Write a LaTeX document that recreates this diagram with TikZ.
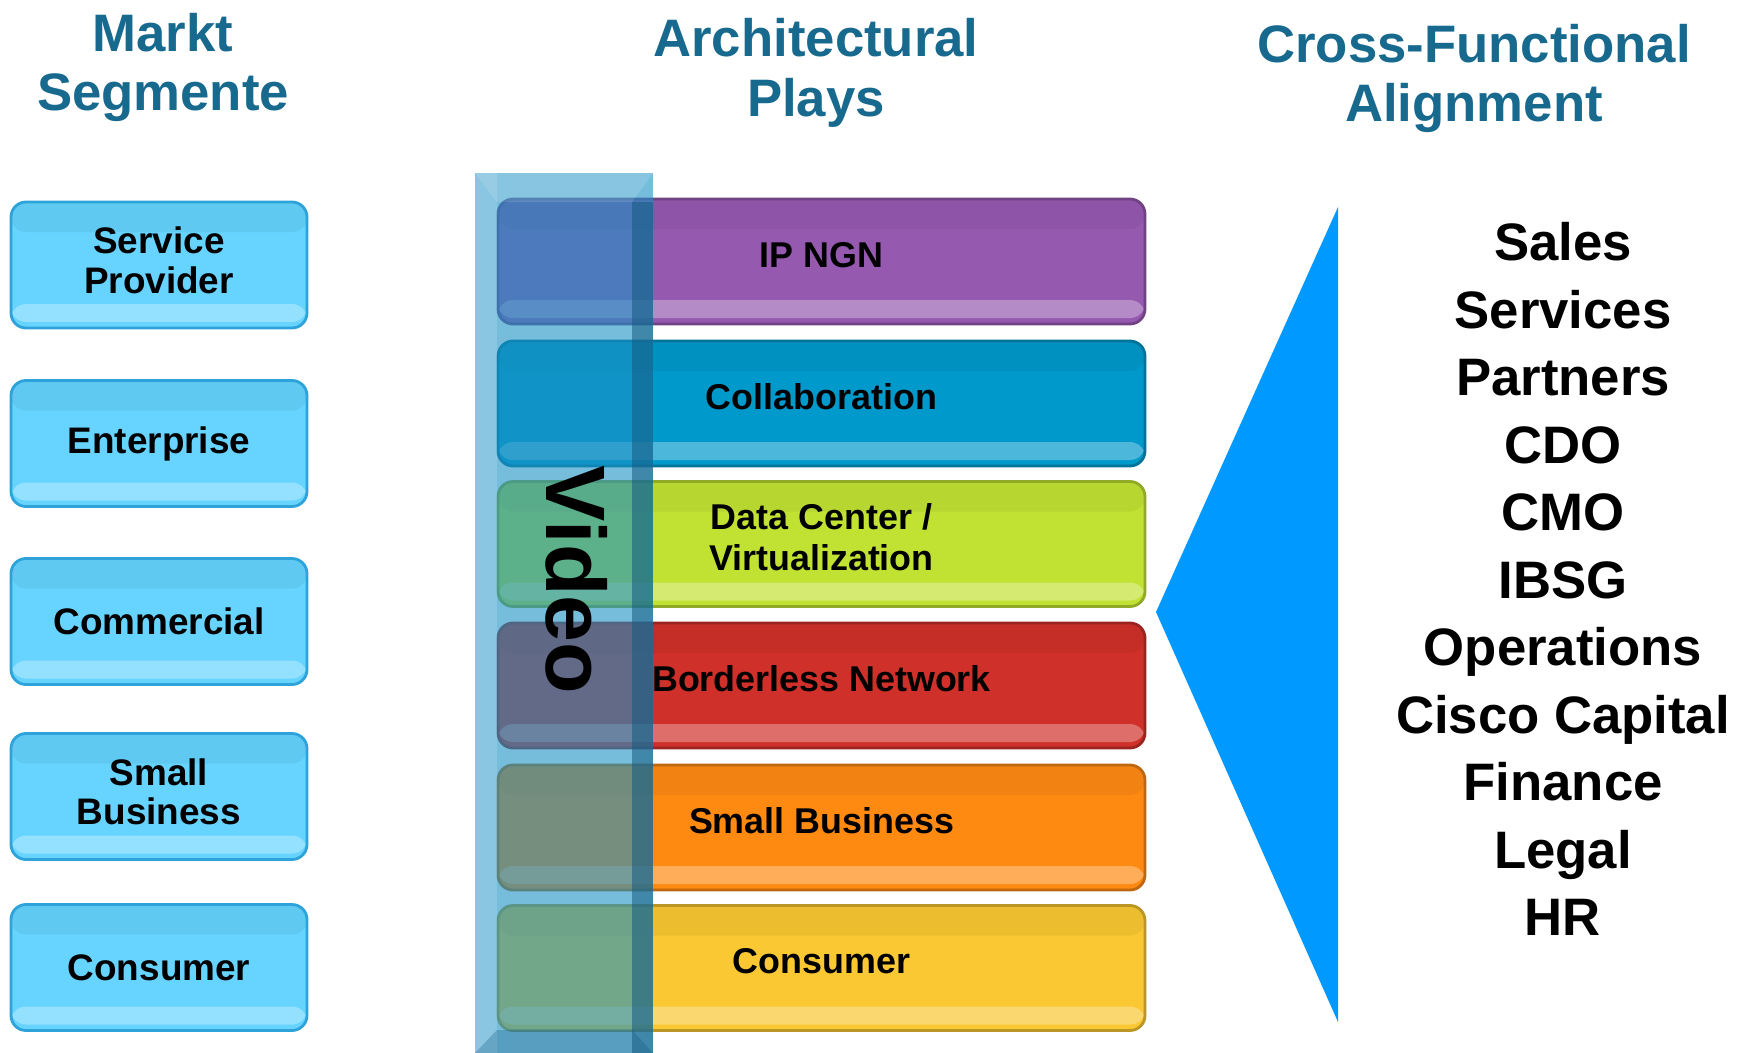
\documentclass[tikz,border=0pt]{standalone}
\usepackage{fontspec}
\setmainfont{Liberation Sans}

\definecolor{headblue}{HTML}{17698E}
\definecolor{segfill}{HTML}{66D4FF}
\definecolor{segline}{HTML}{2EA3DA}
\definecolor{ipngn}{HTML}{9659B0}
\definecolor{collab}{HTML}{0099CC}
\definecolor{datacenter}{HTML}{C2E233}
\definecolor{borderless}{HTML}{D0302A}
\definecolor{smallbiz}{HTML}{FF8A12}
\definecolor{consumer}{HTML}{F9C832}
\definecolor{videoband}{HTML}{1B91C5}
\definecolor{videoedge}{HTML}{145A80}
\definecolor{wedge}{HTML}{0099FF}

\begin{document}
\begin{tikzpicture}
        [thick,
        head/.style = {align=center, text=headblue,
        font=\bfseries\fontsize{15}{17}\selectfont},
        gloss/.style = {path picture={
            \fill[black,opacity=.05] (path picture bounding box.north west) rectangle ([yshift=-.3cm]path picture bounding box.north east);
            \fill[white,opacity=.3] ([yshift=.06cm]path picture bounding box.south west) rectangle ([yshift=.24cm]path picture bounding box.south east);}},
        segment/.style = {rounded corners=0.15cm,
        draw=segline, fill=segfill, gloss,
        minimum width=2.96cm, minimum height=1.26cm, align=center,
        font=\bfseries\fontsize{10.5}{11.2}\selectfont},
        play/.style = {rounded corners=0.15cm,
        draw=#1!75!black, fill=#1, gloss, text depth=0.14cm,
        minimum width=6.47cm, minimum height=1.25cm, align=center,
        font=\bfseries\fontsize{10.2}{11.4}\selectfont}]

        \useasboundingbox (0,0) rectangle (17.51,-10.53);

        % Headings
        \node[head] (hmarkt) at (1.63,-0.675) {Markt\\Segmente};
        \node[head] (hplays) at (8.16,-0.73) {Architectural\\Plays};
        \node[head] (halign) at (14.74,-0.785) {Cross-Functional\\Alignment};

        % Market segments
        \node[segment,text depth=0.1cm] (seg1) at (1.59,-2.65) {Service\\Provider};
        \node[segment] (seg2) at (1.59,-4.435) {Enterprise};
        \node[segment] (seg3) at (1.59,-6.215) {Commercial};
        \node[segment,text depth=0.1cm] (seg4) at (1.59,-7.965) {Small\\Business};
        \node[segment] (seg5) at (1.59,-9.675) {Consumer};

        % Architectural plays
        \node[play=ipngn] (ip) at (8.215,-2.615) {IP NGN};
        \node[play=collab] (collab) at (8.215,-4.035) {Collaboration};
        \node[play=datacenter] (dc) at (8.215,-5.44) {Data Center /\\Virtualization};
        \node[play=borderless] (bn) at (8.215,-6.855) {Borderless Network};
        \node[play=smallbiz] (sb) at (8.215,-8.275) {Small Business};
        \node[play=consumer] (cons) at (8.215,-9.68) {Consumer};

        % Video band across the plays
        \fill[videoband,opacity=.6] (4.75,-1.73) rectangle (6.53,-10.53);
        \fill[white,opacity=.15] (4.75,-1.73) rectangle (4.97,-10.53);
        \fill[white,opacity=.12] (4.75,-1.73) -- (6.53,-1.73) -- (6.32,-2.02) -- (4.97,-2.02) -- cycle;
        \fill[videoedge,opacity=.55] (6.32,-2.02) rectangle (6.53,-10.53);
        \fill[videoedge,opacity=.3] (4.97,-10.3) -- (6.32,-10.3) -- (6.53,-10.53) -- (4.75,-10.53) -- cycle;
        \node[rotate=-90, font=\bfseries\fontsize{24}{24}\selectfont] (video) at (5.77,-5.8) {Video};

        % Wedge
        \fill[wedge] (11.56,-6.12) -- (13.38,-2.07) -- (13.38,-10.22) -- cycle;

        % Functions
        \node[align=center, inner sep=0pt,
        font=\bfseries\fontsize{15}{19.2}\selectfont] (funcs) at (15.63,-5.79)
        {Sales\\Services\\Partners\\CDO\\CMO\\IBSG\\Operations\\Cisco Capital\\Finance\\Legal\\HR};
    \end{tikzpicture}
\end{document}
